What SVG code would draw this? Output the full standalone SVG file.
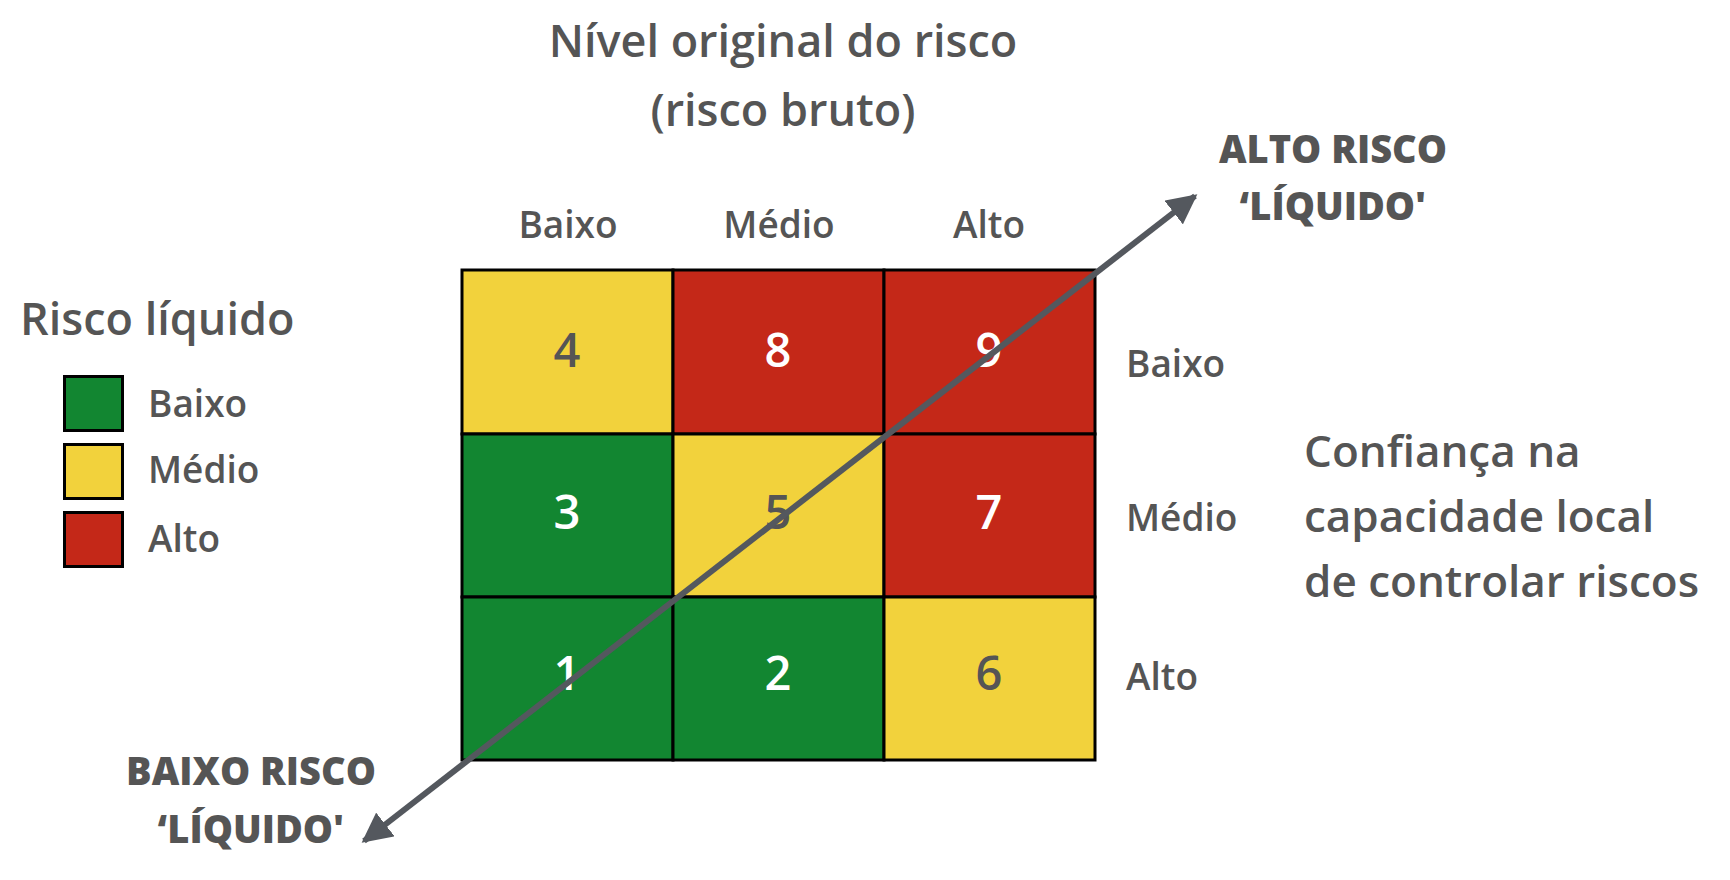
<svg xmlns="http://www.w3.org/2000/svg" width="1730" height="880" viewBox="0 0 1730 880">
<defs>
<style>
.t{font-family:"Open Sans","Noto Sans","Liberation Sans",sans-serif;fill:#555555;font-weight:600}
.b{font-family:"Open Sans","Noto Sans","Liberation Sans",sans-serif;fill:#555555;font-weight:800}
.d{font-family:"Open Sans","Noto Sans","Liberation Sans",sans-serif;font-weight:600;font-size:47px;text-anchor:middle}
.w{fill:#ffffff}
.g{fill:#555555}
.cell{stroke:#000;stroke-width:3}
.Y{fill:#F2D23C}.R{fill:#C42818}.G{fill:#128631}
</style>
<marker id="ah" viewBox="0 0 10 10" refX="9" refY="5" markerWidth="5" markerHeight="5" markerUnits="strokeWidth" orient="auto-start-reverse">
<path d="M0,0 L10,5 L0,10 Z" fill="#54585E"/>
</marker>
</defs>
<rect width="1730" height="880" fill="#ffffff"/>
<g id="title">
<text class="t" x="783" y="57" font-size="45" text-anchor="middle">Nível original do risco</text>
<text class="t" x="783" y="126" font-size="45" text-anchor="middle">(risco bruto)</text>
</g>
<g id="col-labels" class="t" font-size="37" text-anchor="middle">
<text x="568" y="238">Baixo</text>
<text x="779" y="238">Médio</text>
<text x="989" y="238">Alto</text>
</g>
<g id="row-labels" class="t" font-size="37">
<text x="1126" y="377">Baixo</text>
<text x="1126" y="531">Médio</text>
<text x="1126" y="690">Alto</text>
</g>
<g id="axis-label" class="t" font-size="44">
<text x="1304" y="467">Confiança na</text>
<text x="1304" y="532">capacidade local</text>
<text x="1304" y="597">de controlar riscos</text>
</g>
<g id="legend">
<text class="t" x="20" y="335" font-size="45">Risco líquido</text>
<rect class="cell G" x="64.5" y="376.5" width="58" height="54"/>
<rect class="cell Y" x="64.5" y="444.5" width="58" height="54"/>
<rect class="cell R" x="64.5" y="512.5" width="58" height="54"/>
<text class="t" x="148" y="417" font-size="37">Baixo</text>
<text class="t" x="148" y="483" font-size="37">Médio</text>
<text class="t" x="148" y="552" font-size="37">Alto</text>
</g>
<g id="matrix">
<g id="cell-4"><rect class="cell Y" x="462" y="270" width="211" height="164"/><text class="d g" x="567" y="367">4</text></g>
<g id="cell-8"><rect class="cell R" x="673" y="270" width="211" height="164"/><text class="d w" x="778" y="367">8</text></g>
<g id="cell-9"><rect class="cell R" x="884" y="270" width="211" height="164"/><text class="d w" x="989" y="367">9</text></g>
<g id="cell-3"><rect class="cell G" x="462" y="434" width="211" height="163"/><text class="d w" x="567" y="529">3</text></g>
<g id="cell-5"><rect class="cell Y" x="673" y="434" width="211" height="163"/><text class="d g" x="778" y="529">5</text></g>
<g id="cell-7"><rect class="cell R" x="884" y="434" width="211" height="163"/><text class="d w" x="989" y="529">7</text></g>
<g id="cell-1"><rect class="cell G" x="462" y="597" width="211" height="163"/><text class="d w" x="567" y="690">1</text></g>
<g id="cell-2"><rect class="cell G" x="673" y="597" width="211" height="163"/><text class="d w" x="778" y="690">2</text></g>
<g id="cell-6"><rect class="cell Y" x="884" y="597" width="211" height="163"/><text class="d g" x="989" y="690">6</text></g>
</g>
<g id="connectors">
<line x1="364" y1="841" x2="1195" y2="196" stroke="#54585E" stroke-width="6" marker-start="url(#ah)" marker-end="url(#ah)"/>
</g>
<g id="end-labels" class="b" font-size="38" text-anchor="middle">
<text x="1333" y="163">ALTO RISCO</text>
<text x="1333" y="220">‘LÍQUIDO'</text>
<text x="251" y="785">BAIXO RISCO</text>
<text x="251" y="843">‘LÍQUIDO'</text>
</g>
</svg>
